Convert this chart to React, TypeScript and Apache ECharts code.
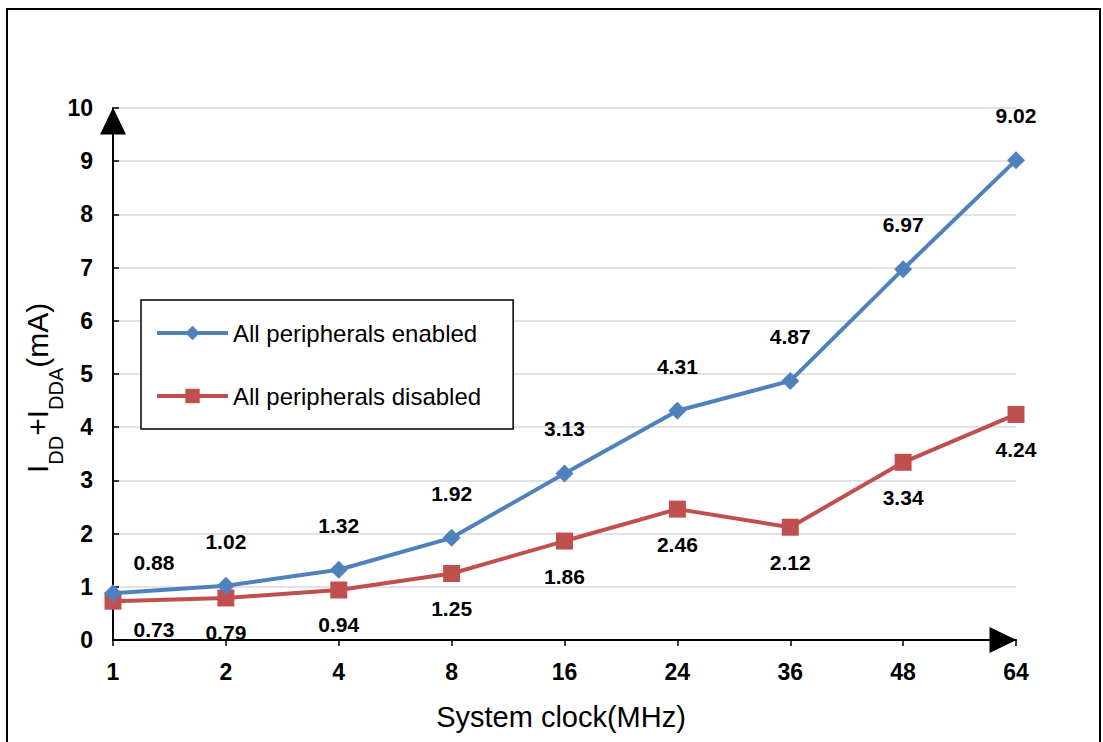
import React, { useEffect, useRef } from "react";
import * as echarts from "echarts";

const categories = ["1", "2", "4", "8", "16", "24", "36", "48", "64"];
const enabledValues = [0.88, 1.02, 1.32, 1.92, 3.13, 4.31, 4.87, 6.97, 9.02];
const disabledValues = [0.73, 0.79, 0.94, 1.25, 1.86, 2.46, 2.12, 3.34, 4.24];
const seriesNames = ["All peripherals enabled", "All peripherals disabled"];
const yTicks = { min: 0, max: 10, interval: 1 };
const xTitle = "System clock(MHz)";
const yTitleParts = [
  { t: "I", sub: false },
  { t: "DD", sub: true },
  { t: "+I", sub: false },
  { t: "DDA", sub: true },
  { t: "(mA)", sub: false },
];

const FONT = "'Liberation Sans', Arial, sans-serif";
const BLUE = "#4F81BD";
const RED = "#C0504D";

function measure(text: string, font: string): number {
  const c = document.createElement("canvas").getContext("2d");
  if (!c) return text.length * 10;
  c.font = font;
  return c.measureText(text).width;
}

export default function App() {
  const ref = useRef<HTMLDivElement>(null);
  useEffect(() => {
    document.body.style.margin = "0";
    if (!ref.current) return;
    const chart = echarts.init(ref.current, null, { renderer: "svg" });

    const mainFs = 30;
    const subFs = 20;
    let pos = 0;
    const yTitleChildren: any[] = [];
    yTitleParts.forEach((p) => {
      const fs = p.sub ? subFs : mainFs;
      const w = measure(p.t, `${fs}px 'Liberation Sans'`);
      yTitleChildren.push({
        type: "text",
        x: pos,
        y: p.sub ? 15 - 0.35 * subFs : -0.35 * mainFs,
        style: {
          text: p.t,
          fontSize: fs,
          fontFamily: FONT,
          fill: "#000",
          align: "left",
          verticalAlign: "middle",
        },
      });
      pos += w;
    });

    const labelStyle = {
      fontFamily: FONT,
      fontWeight: "bold" as const,
      fontSize: 21,
      color: "#000",
    };

    const enabledData = enabledValues.map((v, i) =>
      i === 0 ? { value: v, label: { offset: [41, 14] } } : v
    );
    const disabledData = disabledValues.map((v, i) =>
      i === 0 ? { value: v, label: { offset: [41, -7] } } : v
    );

    chart.setOption({
      animation: false,
      backgroundColor: "#fff",
      grid: { left: 113, right: 87, top: 108, bottom: 102, containLabel: false },
      legend: {
        left: 141,
        top: 300,
        orient: "vertical",
        padding: [21, 32, 21, 14],
        itemWidth: 71,
        itemHeight: 18,
        itemGap: 39,
        backgroundColor: "#fff",
        borderColor: "#000",
        borderWidth: 1.5,
        borderRadius: 0,
        lineStyle: { width: 4 },
        textStyle: { fontFamily: FONT, fontSize: 24, color: "#000" },
        data: seriesNames,
      },
      xAxis: {
        type: "category",
        data: categories,
        boundaryGap: false,
        axisLine: {
          lineStyle: { color: "#000", width: 2 },
          symbol: ["none", "triangle"],
          symbolSize: [26, 27],
          symbolOffset: [0, -13],
        },
        axisTick: { show: true, inside: false, length: 6, lineStyle: { color: "#000", width: 1.5 } },
        axisLabel: {
          margin: 20,
          fontFamily: FONT,
          fontWeight: "bold",
          fontSize: 23,
          color: "#000",
        },
        splitLine: { show: false },
      },
      yAxis: {
        type: "value",
        min: yTicks.min,
        max: yTicks.max,
        interval: yTicks.interval,
        axisLine: {
          show: true,
          lineStyle: { color: "#000", width: 2 },
          symbol: ["none", "triangle"],
          symbolSize: [26, 27],
          symbolOffset: [0, -13],
        },
        axisTick: { show: true, inside: true, length: 6, lineStyle: { color: "#000", width: 1.5 } },
        axisLabel: {
          margin: 20,
          fontFamily: FONT,
          fontWeight: "bold",
          fontSize: 23,
          color: "#000",
        },
        splitLine: { show: true, lineStyle: { color: "#d9d9d9", width: 1.5 } },
      },
      series: [
        {
          name: seriesNames[0],
          type: "line",
          data: enabledData,
          symbol: "diamond",
          symbolSize: 18,
          itemStyle: { color: BLUE },
          lineStyle: { color: BLUE, width: 4 },
          label: { show: true, position: "top", distance: 25, ...labelStyle },
          z: 3,
        },
        {
          name: seriesNames[1],
          type: "line",
          data: disabledData,
          symbol: "rect",
          symbolSize: 17,
          itemStyle: { color: RED },
          lineStyle: { color: RED, width: 4 },
          label: { show: true, position: "bottom", distance: 16, ...labelStyle },
          z: 2,
        },
      ],
      graphic: [
        {
          type: "rect",
          shape: { x: 7, y: 9, width: 1093, height: 780 },
          style: { fill: "none", stroke: "#000", lineWidth: 2 },
          silent: true,
          z: 100,
        },
        {
          type: "text",
          x: 561,
          y: 717,
          style: {
            text: xTitle,
            fontFamily: FONT,
            fontSize: 29,
            fill: "#000",
            align: "center",
            verticalAlign: "middle",
          },
        },
        {
          type: "group",
          x: 48,
          y: 473,
          rotation: Math.PI / 2,
          children: yTitleChildren,
        },
      ],
    });
    return () => chart.dispose();
  }, []);
  return <div ref={ref} style={{ width: 1103, height: 742 }} />;
}
